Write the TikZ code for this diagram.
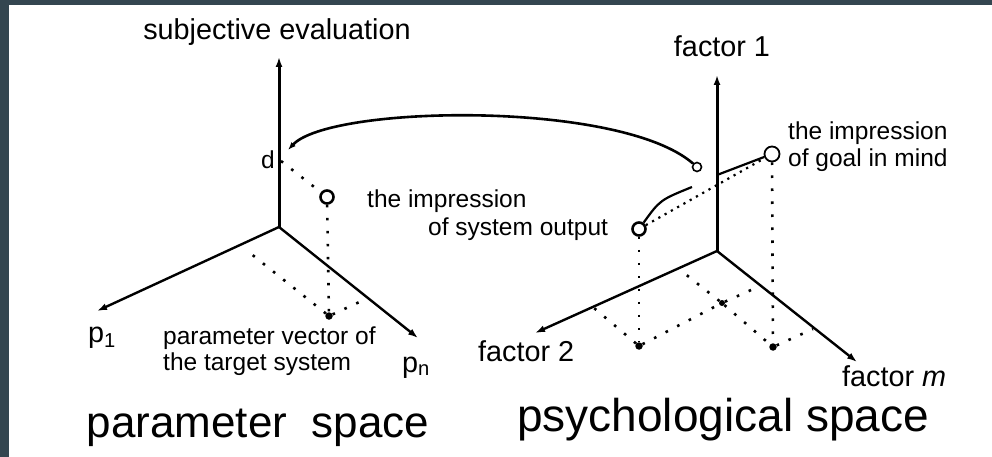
\documentclass[tikz,border=0pt]{standalone}
\usepackage{fontspec}
\setmainfont{Liberation Sans}
\usetikzlibrary{arrows.meta}
\definecolor{frame}{RGB}{52,70,80}

\tikzset{
    axis/.style = {line width=2.4pt, -{Latex[length=10pt,width=7pt]}},
    drop/.style = {line width=2.6pt, dash pattern=on 2.6pt off 10.4pt},
    fine/.style = {line width=2.2pt, dash pattern=on 2.2pt off 5pt},
    ring/.style = {circle, draw, line width=2.6pt, minimum size=13pt, inner sep=0pt},
    dot/.style = {circle, fill, inner sep=0pt, minimum size=7.5pt},
    lbl/.style = {font=\fontsize{24.5}{27}\selectfont, inner sep=0pt},
    axlbl/.style = {font=\fontsize{28.8}{30}\selectfont, inner sep=0pt},
    title/.style = {font=\fontsize{44}{46}\selectfont, inner sep=0pt}
}

\begin{document}
\begin{tikzpicture}[x=1pt, y=-1pt]
    \fill[frame] (0,0) rectangle (992,457);
    \fill[white] (9,5) rectangle (992,457);
    \useasboundingbox (0,0) rectangle (992,457);

    % parameter space
    \coordinate (o1) at (279,227);
    \coordinate (eval) at (279,57);
    \coordinate (p1) at (97,311);
    \coordinate (pn) at (418,338);
    \draw[axis, line width=3pt] (o1) -- (eval);
    \draw[axis] (o1) -- (p1);
    \draw[axis] (o1) -- (pn);

    \coordinate (d) at (281,161);
    \coordinate (dstart) at (288,150);
    \node[ring] (out1) at (327,197) {};
    \node[dot] (vec) at (329,316) {};
    \coordinate (vecp1) at (245,249);
    \coordinate (vecpn) at (366,299);
    \draw[drop] (d) -- (out1);
    \draw[drop] (out1) -- (vec);
    \draw[drop] (vec) -- (vecp1);
    \draw[drop] (vec) -- (vecpn);

    \node[axlbl, anchor=base] (evallbl) at (277,40) {subjective evaluation};
    \node[lbl, anchor=base east] (dlbl) at (275,168) {d};
    \node[lbl, anchor=base west] (out1a) at (367,207) {the impression};
    \node[lbl, anchor=base west] (out1b) at (428,235) {of system output};
    \node[axlbl, anchor=base west] (p1lbl) at (88,342) {p\textsubscript{1}};
    \node[axlbl, anchor=base west] (pnlbl) at (402,372) {p\textsubscript{n}};
    \node[lbl, anchor=base west] (veca) at (163,344) {parameter vector of};
    \node[lbl, anchor=base west] (vecb) at (163,370) {the target system};
    \node[title, anchor=base] (left) at (258,437) {parameter\ \ space};

    % psychological space
    \coordinate (o2) at (717,251);
    \coordinate (f1) at (717,75);
    \coordinate (f2) at (535,333);
    \coordinate (fm) at (857,362);
    \draw[axis, line width=3pt] (o2) -- (f1);
    \draw[axis] (o2) -- (f2);
    \draw[axis] (o2) -- (fm);

    \node[ring] (out2) at (639,229) {};
    \node[ring, line width=1.8pt, minimum size=15pt] (goal) at (772,154) {};
    \node[circle, draw, line width=1.6pt, minimum size=9pt, inner sep=0pt] (dmap) at (697,167) {};
    \coordinate (g0) at (717,175);
    \coordinate (near) at (692,187);
    \node[dot] (out2foot) at (639,346) {};
    \node[dot] (goalfoot) at (773,347) {};
    \node[dot, minimum size=6pt] (base) at (722,303) {};
    \coordinate (a2) at (594,308);
    \coordinate (a3) at (684,273);
    \coordinate (a4) at (760,286);
    \coordinate (a5) at (813,329);

    \draw[line width=2.6pt, {Latex[length=8pt,width=6pt]}-] (dstart) .. controls (330,105) and (620,100) .. (dmap);
    \draw[line width=2.2pt] (g0) -- (goal);
    \draw[fine] (out2) -- (goal);
    \draw[line width=2.2pt] (out2) .. controls (660,200) .. (near);

    \draw[drop] (out2) -- (out2foot);
    \draw[drop] (goal) -- (goalfoot);
    \draw[drop] (out2foot) -- (a2);
    \draw[drop] (out2foot) -- (base);
    \draw[drop] (base) -- (a3);
    \draw[drop] (base) -- (a4);
    \draw[drop] (base) -- (goalfoot);
    \draw[drop] (goalfoot) -- (a5);

    \node[axlbl, anchor=base] (f1lbl) at (722,57) {factor 1};
    \node[lbl, anchor=base west] (goala) at (788,140) {the impression};
    \node[lbl, anchor=base west] (goalb) at (788,167) {of goal in mind};
    \node[axlbl, anchor=base west] (f2lbl) at (478,361) {factor 2};
    \node[axlbl, anchor=base west] (fmlbl) at (842,386) {factor \textit{m}};
    \node[title, font=\fontsize{46}{48}\selectfont, anchor=base] (right) at (723,431) {psychological space};
\end{tikzpicture}
\end{document}
